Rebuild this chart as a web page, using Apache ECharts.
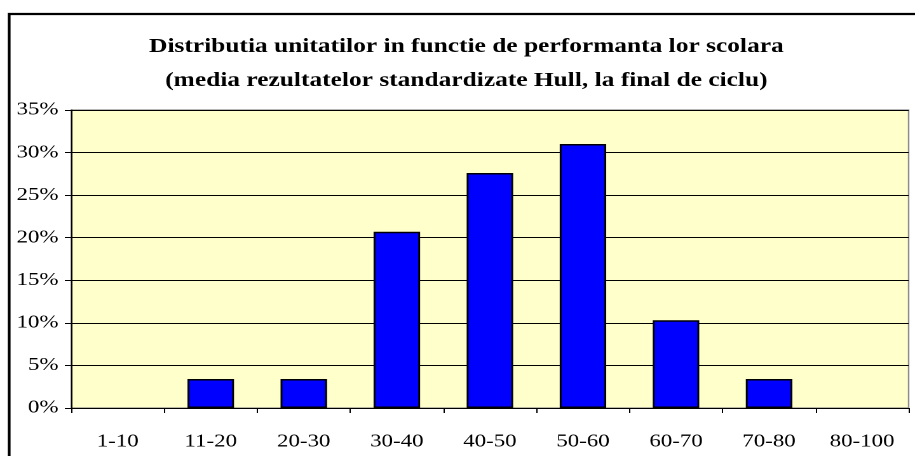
<!DOCTYPE html>
<html>
<head>
<meta charset="utf-8">
<script src="https://cdn.jsdelivr.net/npm/echarts@6/dist/echarts.min.js"></script>
<style>
  html, body { margin: 0; padding: 0; background: #fff; overflow: hidden; }
  /* originalul e usor latit pe orizontala, asa ca desenam mai ingust si intindem */
  #chart { width: 720px; height: 456px; transform: scaleX(1.2708); transform-origin: 0 0; }
</style>
</head>
<body>
<div id="chart"></div>
<script>
// date
var categories = ["1-10", "11-20", "20-30", "30-40", "40-50", "50-60", "60-70", "70-80", "80-100"];
var values = [0, 3.4, 3.4, 20.7, 27.6, 31.0, 10.3, 3.4, 0];
var yTicks = [0, 5, 10, 15, 20, 25, 30, 35];

var titleLines = [
  "Distributia unitatilor in functie de performanta lor scolara",
  "(media rezultatelor standardizate Hull, la final de ciclu)"
];

var chart = echarts.init(document.getElementById("chart"), null, { devicePixelRatio: 2 });

var option = {
  backgroundColor: "#ffffff",
  animation: false,
  title: {
    text: titleLines.join("\n"),
    left: 362,
    textAlign: "center",
    top: 25,
    textStyle: {
      fontFamily: "Liberation Serif",
      fontWeight: "bold",
      fontSize: 20,
      lineHeight: 34,
      color: "#000"
    }
  },
  graphic: [
    {
      type: "rect",
      shape: { x: 7.2, y: 14, width: 730, height: 470 },
      style: { fill: "none", stroke: "#000", lineWidth: 2.2 },
      silent: true
    }
  ],
  grid: {
    left: 56,
    top: 110,
    right: 5,
    bottom: 48,
    show: true,
    backgroundColor: "#FFFFCC",
    borderColor: "#8c8c8c",
    borderWidth: 1.2
  },
  xAxis: {
    type: "category",
    data: categories,
    axisLine: { lineStyle: { color: "#000", width: 1 } },
    axisTick: { show: true, alignWithLabel: false, length: 5, lineStyle: { color: "#000" } },
    axisLabel: {
      interval: 0,
      margin: 25,
      fontFamily: "Liberation Serif",
      fontSize: 18,
      color: "#000"
    },
    splitLine: { show: false }
  },
  yAxis: {
    type: "value",
    min: yTicks[0],
    max: yTicks[yTicks.length - 1],
    interval: 5,
    axisLine: { show: true, lineStyle: { color: "#000", width: 1 } },
    axisTick: { show: true, length: 5, lineStyle: { color: "#000" } },
    axisLabel: {
      margin: 10,
      fontFamily: "Liberation Serif",
      fontSize: 18,
      color: "#000",
      formatter: function (v) { return v + "%"; }
    },
    splitLine: { show: true, lineStyle: { color: "#000", width: 1 } }
  },
  series: [
    {
      type: "bar",
      // valorile 0 nu se deseneaza deloc in original
      data: values.map(function (v) { return v === 0 ? null : v; }),
      barWidth: "50%",
      itemStyle: {
        color: "#0000FF",
        borderColor: "#000",
        borderWidth: 1.5
      }
    }
  ]
};

chart.setOption(option);
</script>
</body>
</html>
